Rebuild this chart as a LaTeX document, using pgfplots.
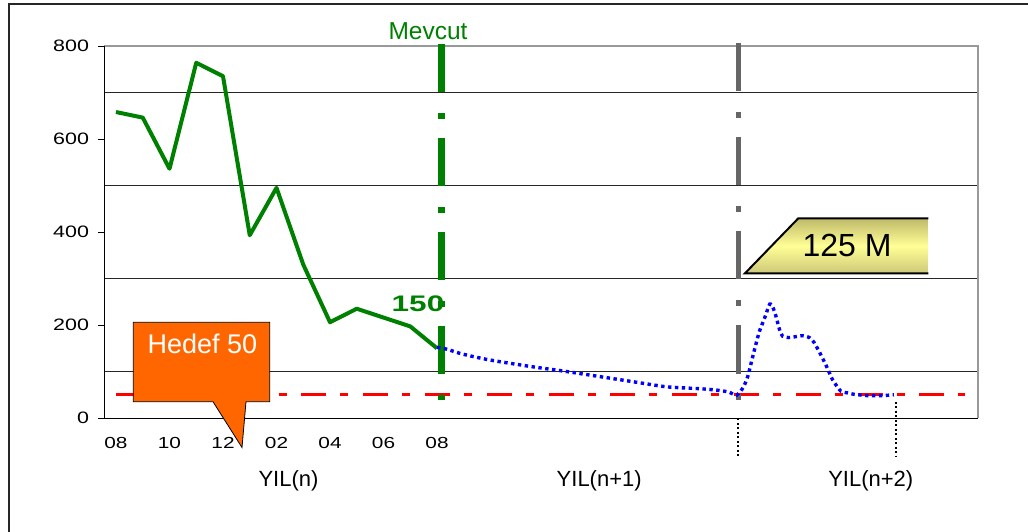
\documentclass[border=0pt]{standalone}
\usepackage{fontspec}
\setmainfont{Liberation Sans}
\newfontfamily\tickfont{Liberation Sans}[FakeStretch=1.3]
\newfontfamily\widefont{Liberation Sans}[FakeStretch=1.4]
\usepackage{pgfplots}
\pgfplotsset{compat=1.18}

\definecolor{okgreen}{RGB}{0,128,0}
\definecolor{linegray}{RGB}{102,102,102}
\definecolor{hedef}{RGB}{255,102,0}
\definecolor{boxtop}{RGB}{190,185,105}
\definecolor{boxmid}{RGB}{255,255,150}
\definecolor{boxbot}{RGB}{205,200,120}

\begin{document}
\begin{tikzpicture}[x=1pt,y=1pt]
\useasboundingbox (0,0) rectangle (1028,531);
% outer frame (left and top edges)
\draw[line width=2pt, black!85] (9,-10) -- (9,526.7) -- (1040,526.7);

\begin{axis}[
  at={(104pt,113pt)}, anchor=south west,
  scale only axis, width=874pt, height=372pt,
  xmin=-0.4486, xmax=32.224, ymin=0, ymax=800,
  clip=false,
  axis line style={draw=none},
  tick align=outside,
  tick pos=left,
  ytick={0,200,...,800},
  minor ytick={100,300,500,700},
  yminorgrids,
  minor grid style={black!85, line width=1pt},
  minor tick length=0pt,
  major tick length=6pt,
  ytick style={black, line width=1pt},
  yticklabel style={font=\tickfont\fontsize{16.5}{16.5}\selectfont, xshift=-5.5pt},
  xtick={0,2,...,12},
  xticklabels={08,10,12,02,04,06,08},
  xtick style={draw=none},
  xticklabel style={font=\tickfont\fontsize{16}{16}\selectfont, anchor=base, yshift=-24pt},
  /pgf/number format/assume math mode=true,
]
% plot frame: grey top/right, black left/bottom
\draw[black!40, line width=1.5pt] (rel axis cs:0,1) -- (rel axis cs:1,1) -- (rel axis cs:1,0);
\draw[black, line width=1pt] (rel axis cs:0,1) -- (rel axis cs:0,0) -- (rel axis cs:1,0);

% target level
\addplot[red, line width=2.7pt, dash pattern=on 25pt off 14pt on 8pt off 14.8pt]
  coordinates {(0,50) (31.74,50)};

% "Mevcut" and year boundary markers
\addplot[okgreen, line width=6.5pt, dash pattern=on 48.5pt off 20.6pt on 6pt off 19pt]
  coordinates {(12.176,805) (12.176,38.7)};
\addplot[linegray, line width=5.5pt, dash pattern=on 48.5pt off 20.6pt on 6pt off 19pt]
  coordinates {(23.27,807) (23.27,38.7)};

% actual values
\addplot[okgreen, line width=4pt, line join=round] coordinates {
  (0,658) (1,646) (2,536) (3,764) (4,735) (5,393) (6,495)
  (7,330) (8,206) (9,235) (10,216) (11,197) (12,150)
};

% forecast
\addplot[blue, line width=3.4pt, dash pattern=on 3.4pt off 3.5pt, smooth, tension=0.35] coordinates {
  (12,152) (12.36,148) (12.86,139) (13.36,132) (13.86,126) (14.36,121)
  (15.59,110) (16.84,100) (18.09,89) (19.33,78) (20.59,67) (21.83,63)
  (22.45,60) (22.9,56) (23.2,49) (23.45,66) (23.62,90) (23.85,143)
  (24.05,186) (24.24,214) (24.44,245) (24.57,236) (24.67,219) (24.80,191)
  (24.92,176) (25.13,173) (25.42,175) (25.67,177) (25.92,173) (26.09,163)
  (26.34,137) (26.57,110) (26.79,82) (27.09,58) (27.34,54) (27.59,51)
  (28.12,48) (28.62,48) (29.08,50)
};
\end{axis}

% dotted year separators below the axis
\draw[black, line width=2pt, dash pattern=on 2pt off 2.5pt] (738.3,113) -- (738.3,74.3);
\draw[black, line width=2pt, dash pattern=on 2pt off 2.5pt] (895.7,129.3) -- (895.7,74.3);

% year labels
\node[anchor=base, font=\fontsize{22}{22}\selectfont] at (288.5,45) {YIL(n)};
\node[anchor=base, font=\fontsize{22}{22}\selectfont] at (599.2,45) {YIL(n+1)};
\node[anchor=base, font=\fontsize{22}{22}\selectfont] at (870.8,45) {YIL(n+2)};

% annotations
\node[anchor=base, text=okgreen, font=\fontsize{24.5}{24.5}\selectfont] at (428,491) {Mevcut};
\node[anchor=base, text=okgreen, font=\widefont\bfseries\fontsize{22.5}{22.5}\selectfont] at (418,219.3) {150};

% target callout
\filldraw[fill=hedef, draw=black, line width=0.8pt]
  (133.3,208.7) -- (269.7,208.7) -- (269.7,129.3) -- (246,129.3) -- (242,83.5)
  -- (213,129.3) -- (133.3,129.3) -- cycle;
\node[anchor=base, text=white, font=\fontsize{27}{27}\selectfont] at (202.5,177.7) {Hedef 50};

% 125 M tag
\shade[top color=boxtop, bottom color=boxbot, middle color=boxmid]
  (745,257.7) -- (798.3,312.7) -- (928.3,312.7) -- (928.3,257.7) -- cycle;
\draw[black, line width=2pt] (928.3,312.7) -- (798.3,312.7) -- (745,257.7) -- (928.3,257.7);
\node[anchor=base, font=\fontsize{32}{32}\selectfont] at (847,274.3) {125 M};
\end{tikzpicture}
\end{document}
